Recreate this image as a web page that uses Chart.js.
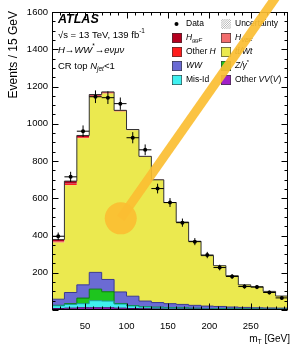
<!DOCTYPE html>
<html><head><meta charset="utf-8">
<script src="https://cdn.jsdelivr.net/npm/chart.js@4.4.0/dist/chart.umd.min.js"></script>
<style>html,body{margin:0;padding:0;background:#fff;overflow:hidden}canvas{display:block}</style>
</head><body>
<canvas id="c" width="295" height="348"></canvas>
<script>
// ---------- data ----------
const binEdges = [10,25,40,55,70,85,100,115,130,145,160,175,190,205,220,235,250,265,280,295];
const xTickValues = [50,100,150,200,250];
const yTickValues = [200,400,600,800,1000,1200,1400,1600];

const dataCounts = [396,715,960,1145,1140,1108,925,860,652,577,469,367,295,228,180,126,123,94,65];
const dataErrors = [20,27,31,34,34,33,30,29,26,24,22,19,17,15,13,11,11,10,8];

// stack components, bottom -> top
const otherVV = [8,10,12,12,12,10,8,7,6,5,5,4,4,3,3,3,2,2,2];
const misId   = [15,20,22,38,36,22,14,10,8,7,6,5,4,4,3,3,3,2,2];
const zgamma  = [2,4,30,62,50,3,2,1,1,1,1,0,0,0,0,0,0,0,0];
const ww      = [33,60,71,90,66,62,50,30,25,21,18,16,13,12,10,8,7,7,6];
const ttWt    = [304,576,787,943,998,969,891,775,658,542,442,344,271,219,168,121,113,89,65];
const otherH  = [5,7,5,4,3,2,1,1,0,0,0,0,0,0,0,0,0,0,0];
const hvbf    = [1,1,1,1,1,1,1,0,0,0,0,0,0,0,0,0,0,0,0];
const hggf    = [10,14,9,7,5,3,2,1,1,1,0,0,0,0,0,0,0,0,0];

// pointer annotation (data coordinates)
const pointerStart = {x: 93, y: 492};
const pointerEnd   = {x: 282, y: 1690};

const FONT = "'Liberation Sans', Arial, Helvetica, sans-serif";

const components = [
  {label:'Other VV(V)', values: otherVV, color:'#a020c8', border:'#4b0a6a', bw:1},
  {label:'Mis-Id',      values: misId,   color:'#3ff0f0', border:'#1a9a9a', bw:1},
  {label:'Z/γ*',        values: zgamma,  color:'#1ec51e', border:'#0a7a0a', bw:1},
  {label:'WW',          values: ww,      color:'#6b6bd4', border:'#3b3b8f', bw:1},
  {label:'tt/Wt',       values: ttWt,    color:'#ebe94f', border:'#8a8a30', bw:0},
  {label:'Other H',     values: otherH,  color:'#ff1c1c', border:'#ff1c1c', bw:0},
  {label:'H VBF',       values: hvbf,    color:'#f26d6d', border:'#f26d6d', bw:0},
  {label:'H ggF',       values: hggf,    color:'#b5001f', border:'#333333', bw:1}
];

// cumulative stack built from the component arrays
const cum = new Array(binEdges.length - 1).fill(0);
const stackDatasets = components.map((c, k) => {
  for (let i = 0; i < cum.length; i++) cum[i] += c.values[i];
  const pts = binEdges.map((e, i) => ({x: e, y: cum[Math.min(i, cum.length - 1)]}));
  return {
    type: 'line', label: c.label, data: pts, stepped: 'before',
    borderColor: c.border, borderWidth: c.bw, backgroundColor: c.color,
    fill: k === 0 ? 'origin' : '-1', pointRadius: 0, tension: 0
  };
});

const dataPoints = dataCounts.map((v, i) => ({x: (binEdges[i] + binEdges[i+1]) / 2, y: v}));

// ---------- helpers ----------
function richWidth(ctx, parts, size) {
  let w = 0;
  for (const p of parts) {
    const s = (p.sub || p.sup) ? size * 0.68 : size;
    ctx.font = (p.i ? 'italic ' : '') + (p.b ? 'bold ' : '') + s + 'px ' + FONT;
    w += ctx.measureText(p.t).width;
  }
  return w;
}
function drawRich(ctx, x, y, parts, size, align) {
  if (align === 'right') x -= richWidth(ctx, parts, size);
  ctx.textBaseline = 'middle'; ctx.textAlign = 'left';
  for (const p of parts) {
    const s = (p.sub || p.sup) ? size * 0.68 : size;
    ctx.font = (p.i ? 'italic ' : '') + (p.b ? 'bold ' : '') + s + 'px ' + FONT;
    const dy = p.sub ? size * 0.3 : (p.sup ? -size * 0.38 : 0);
    ctx.fillText(p.t, x, y + dy);
    const w = ctx.measureText(p.t).width;
    if (p.over) {
      ctx.save(); ctx.lineWidth = 0.7; ctx.strokeStyle = ctx.fillStyle;
      ctx.beginPath(); ctx.moveTo(x + 0.5, y - size * 0.55); ctx.lineTo(x + w, y - size * 0.55); ctx.stroke(); ctx.restore();
    }
    x += w;
  }
}

// ---------- plugins ----------
const decor = {
  id: 'decor',
  afterDatasetsDraw(chart) {
    const {ctx, chartArea: a, scales: {x, y}} = chart;
    ctx.save();
    // error bars
    ctx.strokeStyle = '#000'; ctx.lineWidth = 1;
    dataCounts.forEach((v, i) => {
      const cx = x.getPixelForValue((binEdges[i] + binEdges[i+1]) / 2);
      const cy = y.getPixelForValue(v);
      ctx.beginPath();
      ctx.moveTo(cx, y.getPixelForValue(v - dataErrors[i]));
      ctx.lineTo(cx, y.getPixelForValue(v + dataErrors[i]));
      ctx.moveTo(x.getPixelForValue(binEdges[i]), cy);
      ctx.lineTo(x.getPixelForValue(binEdges[i+1]), cy);
      ctx.stroke();
    });
    // frame
    ctx.strokeStyle = '#000'; ctx.lineWidth = 1;
    const L = Math.round(a.left) + 0.5, R = Math.round(a.right) - 0.5, T = Math.round(a.top) + 0.5, B = Math.round(a.bottom) - 0.5;
    ctx.strokeRect(L, T, R - L, B - T);
    // ticks (inward, all sides)
    ctx.beginPath();
    for (let v = 10; v <= 295; v += 10) {
      const px = Math.round(x.getPixelForValue(v)) + 0.5;
      const len = (v % 50 === 0) ? 6 : 3;
      ctx.moveTo(px, B); ctx.lineTo(px, B - len);
      ctx.moveTo(px, T); ctx.lineTo(px, T + len);
    }
    for (let v = 0; v <= 1600; v += 50) {
      const py = Math.round(y.getPixelForValue(v)) + 0.5;
      const len = (v % 200 === 0) ? 6 : 3;
      ctx.moveTo(L, py); ctx.lineTo(L + len, py);
      ctx.moveTo(R, py); ctx.lineTo(R - len, py);
    }
    ctx.stroke();

    // axis titles
    ctx.fillStyle = '#000';
    drawRich(ctx, 290, 339, [{t:'m'}, {t:'T', sub:true}, {t:' [GeV]'}], 10, 'right');
    ctx.save();
    ctx.translate(14, 11); ctx.rotate(-Math.PI / 2);
    drawRich(ctx, 0, 0, [{t:'Events / 15 GeV'}], 12, 'right');
    ctx.restore();

    // ATLAS labels
    drawRich(ctx, 58, 20, [{t:'ATLAS', b:true, i:true}], 12.5);
    drawRich(ctx, 58, 35, [{t:'√s = 13 TeV, 139 fb'}, {t:'-1', sup:true}], 9.5);
    drawRich(ctx, 58, 50, [{t:'H', i:true}, {t:'→'}, {t:'WW', i:true}, {t:'*', sup:true}, {t:'→'}, {t:'eνμν', i:true}], 9.5);
    drawRich(ctx, 58, 66, [{t:'CR top '}, {t:'N', i:true}, {t:'jet', sub:true, i:true}, {t:'<1'}], 9.5);

    // legend
    const rows = [24, 38, 52, 66, 80];
    const c1 = 172, c2 = 221, sw = 10, fs = 8.5;
    const box = (bx, by, col) => {
      ctx.fillStyle = col; ctx.fillRect(bx, by - sw / 2, sw, sw);
      ctx.strokeStyle = '#333'; ctx.lineWidth = 0.6; ctx.strokeRect(bx + 0.3, by - sw / 2 + 0.3, sw - 0.6, sw - 0.6);
    };
    // data
    ctx.fillStyle = '#000'; ctx.beginPath(); ctx.arc(c1 + 4.5, rows[0], 2, 0, Math.PI * 2); ctx.fill();
    drawRich(ctx, c1 + 14, rows[0], [{t:'Data'}], fs);
    // uncertainty (hatched)
    ctx.save();
    ctx.beginPath(); ctx.rect(c2, rows[0] - sw / 2, sw, sw); ctx.clip();
    ctx.strokeStyle = '#9a9a9a'; ctx.lineWidth = 0.7; ctx.beginPath();
    for (let k = -sw; k < sw * 2; k += 2.2) { ctx.moveTo(c2 + k, rows[0] + sw / 2); ctx.lineTo(c2 + k + sw, rows[0] - sw / 2); }
    ctx.stroke(); ctx.restore();
    ctx.fillStyle = '#000';
    drawRich(ctx, c2 + 14, rows[0], [{t:'Uncertainty'}], fs);

    const legendItems = [
      [c1, rows[1], components[7].color, [{t:'H', i:true}, {t:'ggF', sub:true, i:true}]],
      [c2, rows[1], components[6].color, [{t:'H', i:true}, {t:'VBF', sub:true, i:true}]],
      [c1, rows[2], components[5].color, [{t:'Other '}, {t:'H', i:true}]],
      [c2, rows[2], components[4].color, [{t:'t', i:true}, {t:'t', i:true, over:true}, {t:'/Wt', i:true}]],
      [c1, rows[3], components[3].color, [{t:'WW', i:true}]],
      [c2, rows[3], components[2].color, [{t:'Z/γ', i:true}, {t:'*', sup:true}]],
      [c1, rows[4], components[1].color, [{t:'Mis-Id'}]],
      [c2, rows[4], components[0].color, [{t:'Other '}, {t:'VV', i:true}, {t:'(', i:false}, {t:'V', i:true}, {t:')'}]]
    ];
    for (const [bx, by, col, parts] of legendItems) {
      box(bx, by, col);
      ctx.fillStyle = '#000';
      drawRich(ctx, bx + 14, by, parts, fs);
    }
    ctx.restore();
  },
  afterDraw(chart) {
    const {ctx, scales: {x, y}} = chart;
    const x0 = x.getPixelForValue(pointerStart.x), y0 = y.getPixelForValue(pointerStart.y);
    const x1 = x.getPixelForValue(pointerEnd.x), y1 = y.getPixelForValue(pointerEnd.y);
    ctx.save();
    ctx.strokeStyle = 'rgba(251,190,50,0.92)'; ctx.fillStyle = 'rgba(251,190,50,0.92)';
    ctx.lineWidth = 9; ctx.lineCap = 'butt';
    ctx.beginPath(); ctx.moveTo(x0, y0); ctx.lineTo(x1, y1); ctx.stroke();
    ctx.beginPath(); ctx.arc(x0, y0, 16, 0, Math.PI * 2); ctx.fill();
    ctx.restore();
  }
};

new Chart(document.getElementById('c'), {
  type: 'line',
  data: {
    datasets: [
      ...stackDatasets,
      {type: 'line', label: 'Data', data: dataPoints, showLine: false, pointRadius: 2,
       pointBackgroundColor: '#000', pointBorderColor: '#000', pointBorderWidth: 0, fill: false, order: -1}
    ]
  },
  options: {
    responsive: false, animation: false, devicePixelRatio: 1,
    layout: {padding: {left: 0, right: 7, top: 12, bottom: 0}},
    plugins: {legend: {display: false}, tooltip: {enabled: false}, filler: {drawTime: 'beforeDatasetsDraw'}},
    scales: {
      x: {
        type: 'linear', min: 10, max: 295,
        afterBuildTicks: s => { s.ticks = xTickValues.map(v => ({value: v})); },
        afterFit: s => { s.height = 38; },
        grid: {display: false, drawTicks: false}, border: {display: false},
        ticks: {padding: 11, color: '#000', font: {family: FONT, size: 9.5}, maxRotation: 0, autoSkip: false,
                callback: v => String(v)}
      },
      y: {
        type: 'linear', min: 0, max: 1600,
        afterBuildTicks: s => { s.ticks = yTickValues.map(v => ({value: v})); },
        afterFit: s => { s.width = 52; },
        grid: {display: false, drawTicks: false}, border: {display: false},
        ticks: {padding: 4, color: '#000', font: {family: FONT, size: 9.5}, autoSkip: false,
                callback: v => String(v)}
      }
    }
  },
  plugins: [decor]
});
</script>
</body></html>
